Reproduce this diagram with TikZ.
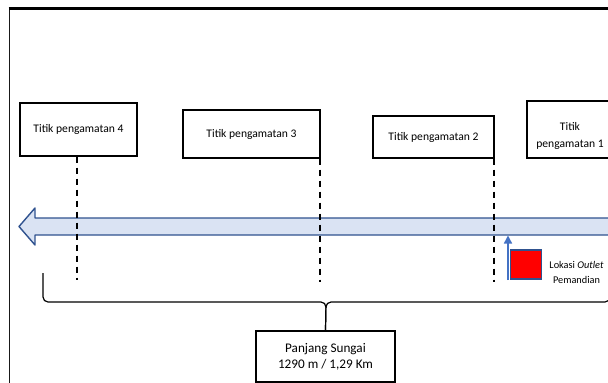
\documentclass[tikz,border=0pt]{standalone}
\usepackage{fontspec}
\setmainfont{Carlito}
\usetikzlibrary{arrows.meta}

\definecolor{riverfill}{HTML}{DAE3F3}
\definecolor{riverline}{HTML}{2F528F}
\definecolor{inflow}{HTML}{4472C4}

\begin{document}
\begin{tikzpicture}[x=1pt,y=-1pt]

      \useasboundingbox (0,0) rectangle (608,383);

      % frame
      \draw[line width=1.8pt,black!90] (9.5,395) -- (9.5,7.5);
      \draw[line width=3pt] (8.6,8.5) -- (620,8.5);

      % river
      \draw[fill=riverfill,draw=riverline,line width=1.4pt,line join=round]
        (19,226.5) -- (35,208) -- (35,218) -- (620,218) -- (620,235)
        -- (35,235) -- (35,245) -- cycle;

      \begin{scope}[every node/.style={rectangle,draw,line width=1.3pt,
          font=\fontsize{11.6}{17}\selectfont,inner sep=0pt}]
        \node[minimum width=117,minimum height=53] (t4) at (78.5,129.5) {Titik pengamatan 4};
        \node[minimum width=137,minimum height=48] (t3) at (251.5,134) {Titik pengamatan 3};
        \node[minimum width=121,minimum height=42] (t2) at (433.5,137) {\raisebox{-3pt}{Titik pengamatan 2}};
        \node[minimum width=86,minimum height=57,align=center] (t1) at (570,129.5) {\rule{0pt}{20pt}Titik\\pengamatan 1};
        \node[minimum width=139,minimum height=51,align=center,
          font=\fontsize{13.2}{16}\selectfont] (panjang) at (325.5,356.5) {Panjang Sungai\\1290 m / 1,29 Km};
      \end{scope}

      \node[rectangle,draw=riverline,fill=red,line width=1.6pt,
        minimum width=31,minimum height=29] (outlet) at (526,264.5) {};
      \node[align=center,font=\fontsize{10.3}{15}\selectfont] (lokasi) at (576.5,272.5)
        {Lokasi \textit{Outlet}\\Pemandian};

      \coordinate (d4) at (77,280);
      \coordinate (d3) at (320,282);
      \coordinate (d2) at (494,282);
      \coordinate (a0) at (508,280);
      \coordinate (inlet) at (508,235.5);
      \coordinate (b1) at (43,273);
      \coordinate (b2) at (610,273);
      \coordinate (bm) at (326,302);

      \begin{scope}[every path/.style={draw,line width=1.5pt,dash pattern=on 6.5pt off 4.5pt}]
        \path (t4.south -| d4) -- (d4);
        \path (t3.south -| d3) -- (d3);
        \path (t2.south -| d2) -- (d2);
      \end{scope}

      \draw[inflow,line width=1.4pt,-{Triangle[width=8pt,length=8pt]}] (a0) -- (inlet);

      % brace
      \draw[line width=1.2pt,rounded corners=5pt] (b1) |- (bm) -- (panjang.north);
      \draw[line width=1.2pt,rounded corners=5pt] (b2) |- (bm) -- (panjang.north);

    \end{tikzpicture}
\end{document}
